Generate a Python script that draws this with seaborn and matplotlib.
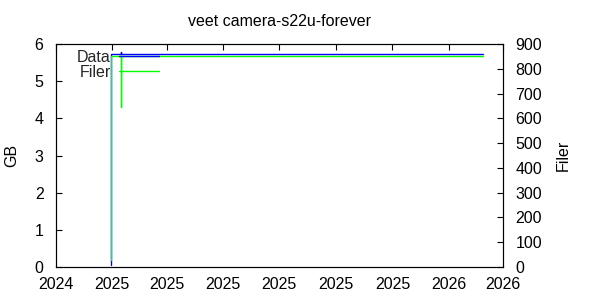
import matplotlib
matplotlib.use("Agg")
import matplotlib.pyplot as plt
import matplotlib.dates as mdates
import seaborn as sns
import pandas as pd
import numpy as np

# ---- data ----
title = "veet camera-s22u-forever"
data_times = ["2024-12-31 00:00", "2024-12-31 00:00", "2025-01-10 00:00",
              "2025-01-10 00:00", "2025-01-10 00:00", "2026-02-07 00:00"]
data_gb = [0.05, 5.72, 5.72, 5.78, 5.72, 5.72]

filer_times = ["2024-12-31 00:00", "2024-12-31 00:00", "2025-01-10 00:00",
               "2025-01-10 00:00", "2025-01-10 00:00", "2026-02-07 00:00"]
filer_count = [30, 852, 852, 645, 852, 852]

x_start, x_end = "2024-11-01", "2026-03-01"
y_ticks = [0, 1, 2, 3, 4, 5, 6]
y2_ticks = [0, 100, 200, 300, 400, 500, 600, 700, 800, 900]

df_data = pd.DataFrame({"t": pd.to_datetime(data_times), "v": data_gb})
df_filer = pd.DataFrame({"t": pd.to_datetime(filer_times), "v": filer_count})

sns.set_theme(style="white")
plt.rcParams["font.family"] = ["Liberation Sans", "DejaVu Sans"]
plt.rcParams["font.size"] = 11.5
plt.rcParams["axes.linewidth"] = 0.8

fig = plt.figure(figsize=(6, 3), dpi=100)
ax = fig.add_axes([56 / 600, 33 / 300, 447 / 600, 223 / 300])
ax2 = ax.twinx()

sns.lineplot(data=df_data, x="t", y="v", ax=ax, estimator=None, sort=False,
             color="#0000ff", linewidth=1.0, label="Data", legend=False)
sns.lineplot(data=df_filer, x="t", y="v", ax=ax2, estimator=None, sort=False,
             color="#00ff00", linewidth=1.0, label="Filer", legend=False)
for ln in ax.get_lines() + ax2.get_lines():
    ln.set_snap(True)

ax.set_xlim(pd.Timestamp(x_start), pd.Timestamp(x_end))
ax.xaxis.set_major_locator(mdates.MonthLocator(bymonth=[1, 3, 5, 7, 9, 11]))
ax.xaxis.set_major_formatter(mdates.DateFormatter("%Y"))
ax.set_ylim(0, 6)
ax.set_yticks(y_ticks)
ax2.set_ylim(0, 900)
ax2.set_yticks(y2_ticks)

for a in (ax, ax2):
    for s in a.spines.values():
        s.set_color("black")
        s.set_linewidth(0.8)
ax.tick_params(axis="x", direction="in", length=4, width=0.8, top=True,
               pad=7.5, labelsize=11.5, colors="black")
ax.tick_params(axis="y", direction="in", length=4, width=0.8, left=True,
               right=False, pad=9, labelsize=11.5, colors="black")
ax2.tick_params(axis="y", direction="in", length=4, width=0.8, right=True,
                pad=9, labelsize=11.5, colors="black")

ax.set_xlabel("")
ax.set_ylabel("GB", fontsize=11.5, color="black")
ax.yaxis.set_label_coords(-0.082, 0.5)
ax2.set_ylabel("Filer", fontsize=11.5, color="black")
ax2.yaxis.set_label_coords(1.119, 0.5)
ax.set_title(title, fontsize=11.5, color="black", pad=13)

handles = ax.get_lines() + ax2.get_lines()
leg = ax2.legend(handles, ["Data", "Filer"], loc="upper left",
                 bbox_to_anchor=(77 / 600, 1 - 50 / 300), bbox_transform=fig.transFigure,
                 frameon=False, markerfirst=False, handlelength=2.5,
                 handletextpad=0.5, labelspacing=0.0, borderpad=0, borderaxespad=0,
                 fontsize=11.5)

fig.savefig("out.png", dpi=100)
